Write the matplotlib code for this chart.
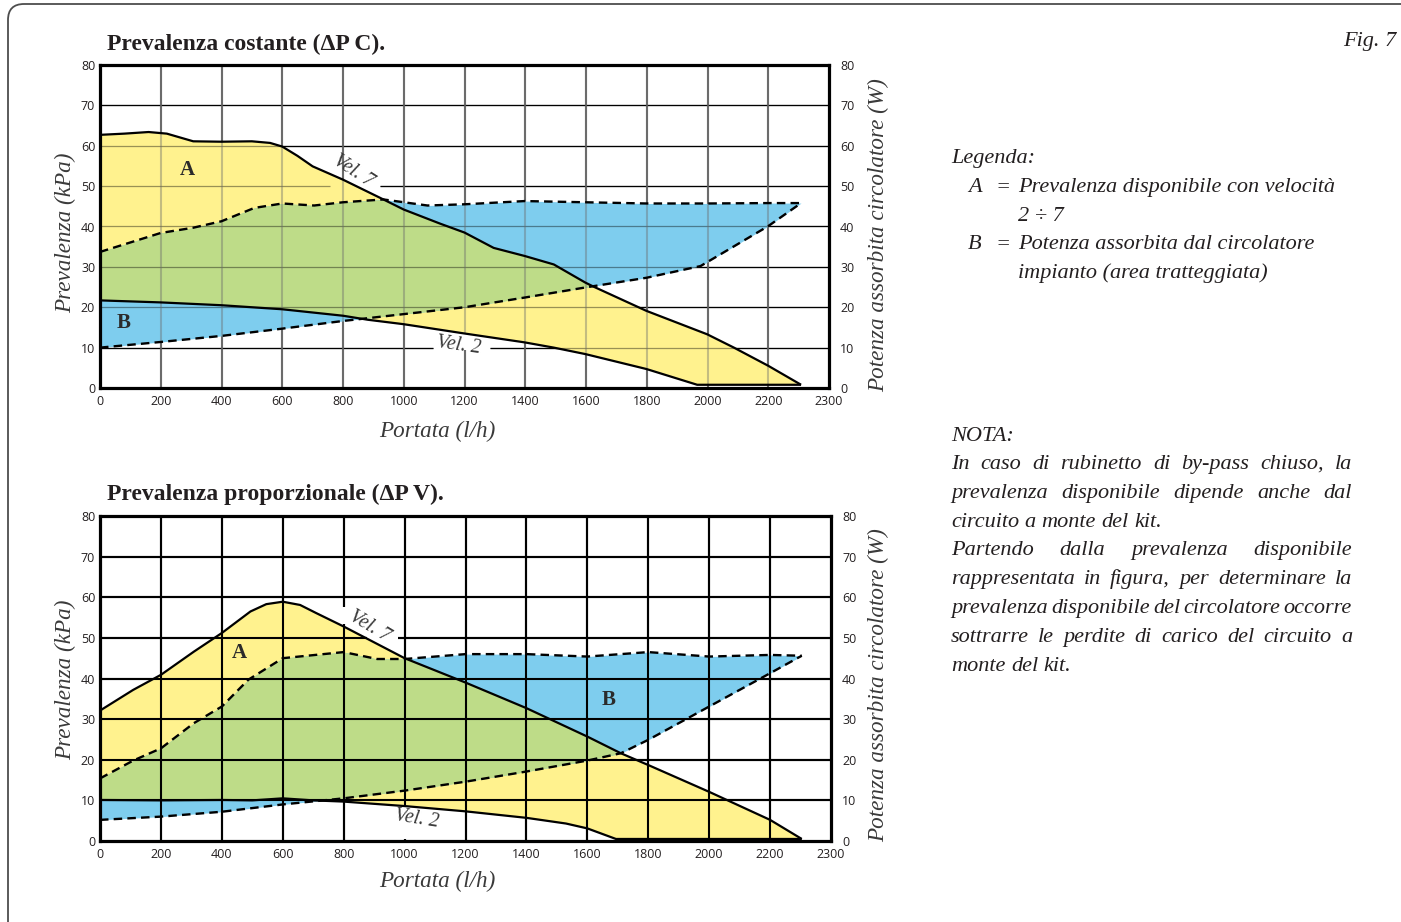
import numpy as np
import matplotlib.pyplot as plt
from matplotlib.patches import FancyBboxPatch
from matplotlib.transforms import IdentityTransform

W, H = 1401, 922
DPI = 100

SERIF = 'Liberation Serif'
SANS = 'Open Sans'
INK = '#231f20'

YELLOW = '#fff28e'
BLUE = '#7ecdee'
GREEN = '#bedc88'

# flow axis: 0..2200 every 200 l/h, last column (2200..2300) drawn as wide as the others
X_BREAK = 2200.0
X_TICKS = [0, 200, 400, 600, 800, 1000, 1200, 1400, 1600, 1800, 2000, 2200, 2300]
Y_TICKS = [0, 10, 20, 30, 40, 50, 60, 70, 80]

# --- Prevalenza costante (delta P C) ---
c_vel7_x = [0, 80, 160, 220, 307, 400, 500, 560, 600, 650, 700, 800, 933, 1000,
            1120, 1200, 1296, 1398, 1494, 1598, 1625, 1799, 1999, 2087, 2200, 2254]
c_vel7_y = [62.7, 63.0, 63.4, 63.0, 61.1, 61.0, 61.1, 60.7, 59.8, 57.5, 54.9, 51.6, 46.7, 44.2,
            40.7, 38.5, 34.7, 32.7, 30.6, 26.1, 25.1, 19.1, 13.3, 10.0, 5.5, 0.8]
c_vel2_x = [0, 200, 400, 600, 800, 882, 1000, 1200, 1398, 1494, 1598, 1799, 1966, 2254]
c_vel2_y = [21.7, 21.2, 20.5, 19.5, 17.9, 16.9, 15.8, 13.5, 11.3, 10.0, 8.4, 4.7, 0.8, 0.8]
c_pw7_x = [0, 200, 307, 400, 508, 600, 705, 800, 933, 1078, 1200, 1398, 1598, 1799, 1999, 2200, 2254]
c_pw7_y = [33.7, 38.4, 39.7, 41.3, 44.6, 45.7, 45.2, 46.0, 46.7, 45.2, 45.5, 46.3, 46.0, 45.7, 45.7, 45.8, 45.8]
c_pw2_x = [0, 200, 400, 600, 800, 1000, 1200, 1398, 1598, 1799, 1977, 2200, 2254]
c_pw2_y = [10.0, 11.4, 12.9, 14.7, 16.6, 18.3, 20.0, 22.4, 24.9, 27.3, 30.2, 40.1, 45.8]

# --- Prevalenza proporzionale (delta P V) ---
p_vel7_x = [0, 109, 200, 308, 400, 494, 546, 600, 657, 710, 800, 1000, 1200, 1400, 1600, 1710,
            1800, 2000, 2200, 2252]
p_vel7_y = [32.1, 37.2, 40.9, 46.6, 51.2, 56.5, 58.3, 58.9, 58.1, 56.1, 52.8, 45.0, 39.0, 32.7, 25.7, 21.6,
            18.7, 12.1, 5.2, 0.5]
p_vel2_x = [0, 200, 400, 500, 600, 700, 800, 1000, 1200, 1400, 1530, 1600, 1694, 2252]
p_vel2_y = [10.1, 10.0, 10.1, 10.0, 10.5, 10.0, 9.7, 8.6, 7.3, 5.7, 4.3, 3.1, 0.5, 0.5]
p_pw7_x = [0, 109, 200, 308, 400, 487, 600, 800, 910, 1000, 1200, 1400, 1600, 1800, 2000, 2200, 2252]
p_pw7_y = [15.4, 19.8, 22.8, 29.0, 33.1, 39.7, 45.0, 46.5, 44.8, 44.8, 46.0, 46.0, 45.4, 46.5, 45.4, 45.8, 45.6]
p_pw2_x = [0, 200, 400, 600, 800, 1000, 1200, 1400, 1600, 1710, 1800, 2000, 2200, 2252]
p_pw2_y = [5.2, 6.0, 7.2, 9.0, 10.5, 12.4, 14.6, 17.1, 19.8, 21.6, 24.9, 33.1, 41.3, 45.6]


def fwd(x):
    x = np.asarray(x, dtype=float)
    return np.where(x <= X_BREAK, x, X_BREAK + 2.0 * (x - X_BREAK))


def inv(x):
    x = np.asarray(x, dtype=float)
    return np.where(x <= X_BREAK, x, X_BREAK + (x - X_BREAK) / 2.0)


def px(x, y):
    return x / W, 1 - y / H


def segments(lo, hi, gaps):
    out, start = [], lo
    for a, b in sorted(gaps):
        out.append((start, a))
        start = b
    out.append((start, hi))
    return out


def draw_grid(ax, hcol, vcol, hlw, vlw, z, alpha, hgaps, vgaps):
    for yv in Y_TICKS[1:-1]:
        for a, b in segments(0, 2300, hgaps.get(yv, [])):
            ax.hlines(yv, a, b, color=hcol, lw=hlw, zorder=z, alpha=alpha)
    for xv in X_TICKS[1:-1]:
        for a, b in segments(0, 80, vgaps.get(xv, [])):
            ax.vlines(xv, a, b, color=vcol, lw=vlw, zorder=z, alpha=alpha)


def draw_panel(rect, vel7, vel2, pw7, pw2, grid_alpha, grid_style, hgaps, vgaps):
    ax = fig.add_axes(rect)
    ax.set_xscale('function', functions=(fwd, inv))
    ax.set_xlim(0, 2300)
    ax.set_ylim(0, 80)

    x_end = min(vel7[0][-1], pw7[0][-1])
    xs = np.union1d(np.linspace(0, x_end, 900),
                    np.concatenate([vel7[0], vel2[0], pw7[0], pw2[0], [X_BREAK]]))
    xs = xs[xs <= x_end]
    a_hi = np.interp(xs, *vel7)
    a_lo = np.interp(xs, *vel2)
    b_hi = np.interp(xs, *pw7)
    b_lo = np.interp(xs, *pw2)
    lo = np.maximum(a_lo, b_lo)
    hi = np.minimum(a_hi, b_hi)

    ax.fill_between(xs, a_lo, a_hi, color=YELLOW, lw=0, zorder=2)
    ax.fill_between(xs, b_lo, b_hi, color=BLUE, lw=0, zorder=2)
    ax.fill_between(xs, lo, hi, where=hi > lo, interpolate=True, color=GREEN, lw=0, zorder=2)

    # grid: full strength under the areas, toned over them
    hcol, vcol, hlw, vlw = grid_style
    draw_grid(ax, hcol, vcol, hlw, vlw, 1, 1.0, hgaps, vgaps)
    draw_grid(ax, hcol, vcol, hlw, vlw, 3, grid_alpha, hgaps, vgaps)

    ax.plot(*vel7, color='black', lw=1.6, zorder=5, solid_capstyle='butt')
    ax.plot(*vel2, color='black', lw=1.6, zorder=5, solid_capstyle='butt')
    for cx, cy in (pw7, pw2):
        ax.plot(cx, cy, color='black', lw=1.7, zorder=5, dashes=(3.6, 2.2))

    for s in ax.spines.values():
        s.set_linewidth(2.3)
        s.set_zorder(6)
    ax.set_xticks(X_TICKS)
    ax.set_xticklabels([str(v) for v in X_TICKS])
    ax.set_yticks(Y_TICKS)
    ax.tick_params(length=0, labelsize=9, labelcolor=INK)
    ax.tick_params(axis='x', pad=5)
    ax.tick_params(axis='y', pad=3.5)
    sec = ax.secondary_yaxis('right')
    sec.set_yticks(Y_TICKS)
    sec.tick_params(length=0, labelsize=9, labelcolor=INK, pad=8)
    sec.spines['right'].set_visible(False)
    for lab in ax.get_xticklabels() + ax.get_yticklabels() + sec.get_yticklabels():
        lab.set_fontfamily(SANS)
    return ax


plt.rcParams['font.family'] = SERIF
fig = plt.figure(figsize=(W / DPI, H / DPI), dpi=DPI)

# page frame with rounded corner
frame = FancyBboxPatch((8, -60), 1500, H - 4 + 60, boxstyle='round,pad=0,rounding_size=16',
                       transform=IdentityTransform(), fill=False, ec='#4d4d4d', lw=1.3)
fig.add_artist(frame)

ax1 = draw_panel([100 / W, 1 - 388 / H, 729 / W, 323 / H],
                 (c_vel7_x, c_vel7_y), (c_vel2_x, c_vel2_y),
                 (c_pw7_x, c_pw7_y), (c_pw2_x, c_pw2_y),
                 grid_alpha=0.4,
                 grid_style=('black', '#6b6b6b', 0.9, 1.5),
                 hgaps={50: [(758, 923)], 10: [(1097, 1285)]},
                 vgaps={1200: [(9.3, 13.4)]})
ax2 = draw_panel([100 / W, 1 - 841 / H, 731 / W, 325 / H],
                 (p_vel7_x, p_vel7_y), (p_vel2_x, p_vel2_y),
                 (p_pw7_x, p_pw7_y), (p_pw2_x, p_pw2_y),
                 grid_alpha=1.0,
                 grid_style=('black', 'black', 1.5, 1.5),
                 hgaps={50: [(875, 977)]},
                 vgaps={800: [(53.5, 57.6)], 1000: [(0.6, 8.4)]})

# area letters and curve names
bold = dict(fontsize=15, fontweight='bold', color='#2b2b2b', ha='center', va='center', zorder=7)
ax1.text(287, 54, 'A', **bold)
ax1.text(79, 16, 'B', **bold)
ax2.text(459, 46.3, 'A', **bold)
ax2.text(1669, 34.7, 'B', **bold)

ital = dict(fontsize=14.5, style='italic', color='#3a3a3a', ha='center', va='center', zorder=7)
ax1.text(834, 53.6, 'Vel. 7', rotation=-33, **ital)
ax1.text(1180, 10.4, 'Vel. 2', rotation=-8, **ital)
ax2.text(885, 52.7, 'Vel. 7', rotation=-31, **ital)
ax2.text(1039, 5.4, 'Vel. 2', rotation=-9, **ital)

# titles and axis names
for y, title in ((50, 'Prevalenza costante (\u0394P C).'),
                 (500, 'Prevalenza proporzionale (\u0394P V).')):
    fig.text(*px(107, y), title, fontsize=17, fontweight='bold', color=INK, va='baseline')

lab = dict(fontsize=16.7, style='italic', color='#3a3a3a', ha='center', va='center')
fig.text(*px(437, 431), 'Portata (l/h)', **lab)
fig.text(*px(437, 881), 'Portata (l/h)', **lab)
fig.text(*px(66, 233), 'Prevalenza (kPa)', rotation=90, **lab)
fig.text(*px(66, 680), 'Prevalenza (kPa)', rotation=90, **lab)
fig.text(*px(879, 235), 'Potenza assorbita circolatore (W)', rotation=90, **lab)
fig.text(*px(879, 685), 'Potenza assorbita circolatore (W)', rotation=90, **lab)

side = dict(fontsize=16, style='italic', color=INK, va='baseline')
fig.text(*px(1396, 46), 'Fig. 7', ha='right', **side)
fig.text(*px(951, 163), 'Legenda:', **side)
fig.text(*px(968, 192), 'A', **side)
fig.text(*px(995, 192), '=', **side)
fig.text(*px(1018, 192), 'Prevalenza disponibile con velocit\u00e0', **side)
fig.text(*px(1018, 221), '2 \u00f7 7', **side)
fig.text(*px(968, 249), 'B', **side)
fig.text(*px(995, 249), '=', **side)
fig.text(*px(1018, 249), 'Potenza assorbita dal circolatore', **side)
fig.text(*px(1018, 278), 'impianto (area tratteggiata)', **side)

fig.text(*px(951, 441), 'NOTA:', **side)
nota = [
    ('In caso di rubinetto di by-pass chiuso, la', True),
    ('prevalenza disponibile dipende anche dal', True),
    ('circuito a monte del kit.', False),
    ('Partendo dalla prevalenza disponibile', True),
    ('rappresentata in figura, per determinare la', True),
    ('prevalenza disponibile del circolatore occorre', True),
    ('sottrarre le perdite di carico del circuito a', True),
    ('monte del kit.', False),
]
renderer = fig.canvas.get_renderer()
x_left, x_right = 951, 1352
for i, (line, justify) in enumerate(nota):
    base = 469 + i * 28.8
    words = line.split()
    texts = [fig.text(0, 0, w, **side) for w in words]
    widths = [t.get_window_extent(renderer).width for t in texts]
    if justify:
        gap = (x_right - x_left - sum(widths)) / (len(words) - 1)
    else:
        gap = 0.25 * side['fontsize'] * DPI / 72
    x = x_left
    for t, w in zip(texts, widths):
        t.set_position(px(x, base))
        x += w + gap

fig.savefig('out.png', dpi=DPI)
